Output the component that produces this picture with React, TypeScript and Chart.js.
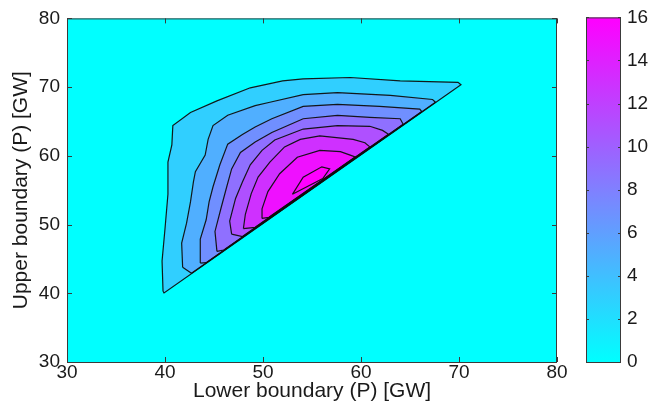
import React, { useEffect, useRef } from "react";
import { Chart, registerables } from "chart.js";

Chart.register(...registerables);

// ---- data ----
const xTicks = [30, 40, 50, 60, 70, 80];
const yTicks = [30, 40, 50, 60, 70, 80];
const colorTicks = [0, 2, 4, 6, 8, 10, 12, 14, 16];
const levels = [2, 4, 6, 8, 10, 12, 14, 16];

// contour polygons [lower boundary, upper boundary]
const contour2: [number, number][] = [
  [39.8, 40.3], [39.7, 44.7], [40.0, 49.4], [40.3, 54.4], [40.3, 59.1], [40.7, 61.6], [40.8, 64.4],
  [42.6, 66.3], [45.3, 68.0], [48.7, 69.9], [52.0, 70.9], [54.1, 71.2], [58.9, 71.4], [64.0, 70.9],
  [69.9, 70.7], [70.2, 70.35], [39.9, 40.05], [39.8, 40.3],
];
const contour4: [number, number][] = [
  [41.8, 43.8], [41.7, 47.3], [42.2, 50.2], [42.6, 53.3], [42.9, 56.2], [43.1, 57.7], [44.1, 60.1],
  [44.4, 62.4], [44.9, 64.4], [46.4, 65.9], [49.2, 67.3], [50.7, 67.8], [54.1, 68.9], [57.6, 69.2],
  [63.0, 68.8], [67.3, 68.2], [67.6, 67.8], [42.7, 42.9], [41.8, 43.8],
];
const contour6: [number, number][] = [
  [43.6, 44.4], [43.6, 47.9], [44.2, 50.7], [44.5, 53.3], [44.9, 55.5], [45.6, 58.7], [46.4, 61.7],
  [47.9, 63.1], [49.2, 64.2], [50.9, 65.4], [54.1, 67.2], [57.6, 67.5], [61.9, 67.2], [66.0, 66.8],
  [66.2, 66.45], [44.2, 44.45], [43.6, 44.4],
];
const contour8: [number, number][] = [
  [45.3, 46.1], [45.1, 49.0], [45.7, 52.3], [46.3, 55.5], [46.8, 58.1], [47.7, 60.5], [49.2, 62.0],
  [50.9, 63.4], [54.1, 65.4], [57.6, 65.9], [60.9, 65.6], [64.0, 65.4], [64.3, 64.6], [46.0, 46.3],
  [45.3, 46.1],
];
const contour10: [number, number][] = [
  [46.8, 48.6], [46.6, 50.5], [47.2, 53.8], [47.9, 56.2], [48.7, 58.7], [49.9, 60.8], [51.2, 62.3],
  [54.1, 63.9], [57.6, 64.4], [60.9, 64.3], [62.2, 63.7], [62.8, 63.15], [47.9, 48.25], [46.8, 48.6],
];
const contour12: [number, number][] = [
  [48.0, 49.4], [48.2, 51.5], [48.8, 54.5], [49.5, 56.9], [50.7, 59.1], [52.2, 61.3], [53.8, 62.4],
  [55.8, 62.9], [59.2, 62.4], [60.4, 61.9], [60.9, 61.3], [49.2, 49.6], [48.0, 49.4],
];
const contour14: [number, number][] = [
  [49.9, 50.9], [49.9, 52.3], [50.5, 54.8], [51.7, 57.4], [53.5, 59.8], [55.8, 60.8], [57.9, 60.6],
  [58.9, 60.1], [59.4, 59.85], [50.6, 51.05], [49.9, 50.9],
];
const contour16: [number, number][] = [
  [53.0, 54.4], [54.1, 56.9], [56.0, 58.4], [56.8, 58.1], [56.1, 56.7], [53.0, 54.4],
];

const contours = [contour2, contour4, contour6, contour8, contour10, contour12, contour14, contour16];

// ---- styling helpers ----
const CMAX = 16;
function cool(v: number): string {
  const t = Math.max(0, Math.min(1, v / CMAX));
  return `rgb(${Math.round(255 * t)}, ${Math.round(255 * (1 - t))}, 255)`;
}
const FONT = "'Liberation Sans', Arial, Helvetica, sans-serif";
const TEXT = "#1a1a1a";
const FRAME = "#3a3a3a";

function makeFramePlugin(sides: { x: boolean; y: boolean }, tickLen: number) {
  return {
    id: "frameTicks",
    afterDraw(chart: any) {
      const { ctx, chartArea: a } = chart;
      ctx.save();
      ctx.strokeStyle = FRAME;
      ctx.lineWidth = 1;
      ctx.beginPath();
      if (sides.x) {
        const sx = chart.scales.x;
        for (const t of sx.ticks) {
          const p = Math.round(sx.getPixelForValue(t.value)) + 0.5;
          ctx.moveTo(p, a.bottom);
          ctx.lineTo(p, a.bottom - tickLen);
          ctx.moveTo(p, a.top);
          ctx.lineTo(p, a.top + tickLen);
        }
      }
      if (sides.y) {
        const sy = chart.scales.y;
        for (const t of sy.ticks) {
          const p = Math.round(sy.getPixelForValue(t.value)) + 0.5;
          ctx.moveTo(a.left, p);
          ctx.lineTo(a.left + tickLen, p);
          ctx.moveTo(a.right, p);
          ctx.lineTo(a.right - tickLen, p);
        }
      }
      ctx.stroke();
      ctx.strokeRect(a.left + 0.5, a.top + 0.5, a.right - a.left - 1, a.bottom - a.top);
      ctx.restore();
    },
  };
}

const backgroundPlugin = {
  id: "plotBackground",
  beforeDraw(chart: any) {
    const { ctx, chartArea: a } = chart;
    ctx.save();
    ctx.fillStyle = "#ffffff";
    ctx.fillRect(0, 0, chart.width, chart.height);
    ctx.fillStyle = cool(0);
    ctx.fillRect(a.left, a.top, a.right - a.left, a.bottom - a.top);
    ctx.restore();
  },
};

export default function App() {
  const mainRef = useRef<HTMLCanvasElement>(null);
  const barRef = useRef<HTMLCanvasElement>(null);

  useEffect(() => {
    const datasets = contours.map((pts, i) => ({
      label: String(levels[i]),
      data: pts.map(([x, y]) => ({ x, y })),
      fill: "shape",
      backgroundColor: cool(levels[i] + 1),
      borderColor: "rgba(15,15,15,0.95)",
      borderWidth: 1.2,
      pointRadius: 0,
      pointHoverRadius: 0,
      tension: 0,
      order: contours.length - i,
    }));

    const main = new Chart(mainRef.current!, {
      type: "line",
      data: { datasets: datasets as any },
      options: {
        animation: false,
        responsive: false,
        events: [],
        layout: { padding: { top: 15, right: 91, left: 0, bottom: 0 } },
        plugins: {
          legend: { display: false },
          tooltip: { enabled: false },
          filler: { drawTime: "beforeDatasetsDraw" } as any,
        },
        scales: {
          x: {
            type: "linear",
            min: xTicks[0],
            max: xTicks[xTicks.length - 1],
            afterBuildTicks: (s: any) => {
              s.ticks = xTicks.map((v) => ({ value: v }));
            },
            afterFit: (s: any) => {
              s.height = 56;
            },
            grid: { display: false, drawTicks: false },
            border: { display: false },
            ticks: { font: { family: FONT, size: 19 }, color: TEXT, padding: -1, maxRotation: 0 },
            title: {
              display: true,
              text: "Lower boundary (P) [GW]",
              font: { family: FONT, size: 21 },
              color: TEXT,
              padding: { top: 0, bottom: 14 },
            },
          },
          y: {
            type: "linear",
            min: yTicks[0],
            max: yTicks[yTicks.length - 1],
            afterBuildTicks: (s: any) => {
              s.ticks = yTicks.map((v) => ({ value: v }));
            },
            afterFit: (s: any) => {
              s.width = 67;
            },
            grid: { display: false, drawTicks: false },
            border: { display: false },
            ticks: { font: { family: FONT, size: 19 }, color: TEXT, padding: 7 },
            title: {
              display: true,
              text: "Upper boundary (P) [GW]",
              font: { family: FONT, size: 21 },
              color: TEXT,
              padding: { top: 9, bottom: 0 },
            },
          },
        },
      },
      plugins: [backgroundPlugin, makeFramePlugin({ x: true, y: true }, 5)],
    });

    const bar = new Chart(barRef.current!, {
      type: "bar",
      data: {
        labels: ["colorbar"],
        datasets: [
          {
            data: [[colorTicks[0], colorTicks[colorTicks.length - 1]]] as any,
            backgroundColor: (c: any) => {
              const a = c.chart.chartArea;
              if (!a) return cool(8);
              const g = c.chart.ctx.createLinearGradient(0, a.bottom, 0, a.top);
              colorTicks.forEach((v) => g.addColorStop(v / CMAX, cool(v)));
              return g;
            },
            borderWidth: 0,
            barPercentage: 1,
            categoryPercentage: 1,
          },
        ],
      },
      options: {
        animation: false,
        responsive: false,
        events: [],
        layout: { padding: { top: 15, right: 0, left: 586, bottom: 56 } },
        plugins: { legend: { display: false }, tooltip: { enabled: false } },
        scales: {
          x: { display: false },
          y: {
            position: "right",
            min: colorTicks[0],
            max: colorTicks[colorTicks.length - 1],
            afterBuildTicks: (s: any) => {
              s.ticks = colorTicks.map((v) => ({ value: v }));
            },
            afterFit: (s: any) => {
              s.width = 27;
            },
            grid: { display: false, drawTicks: false },
            border: { display: false },
            ticks: { font: { family: FONT, size: 19 }, color: TEXT, padding: 6 },
          },
        },
      },
      plugins: [makeFramePlugin({ x: false, y: true }, 3)],
    });

    return () => {
      main.destroy();
      bar.destroy();
    };
  }, []);

  return (
    <div style={{ position: "absolute", left: 0, top: 0, width: 648, height: 418 }}>
      <canvas ref={mainRef} width={648} height={418} style={{ position: "absolute", left: 0, top: 0 }} />
      <canvas ref={barRef} width={648} height={418} style={{ position: "absolute", left: 0, top: 0 }} />
    </div>
  );
}
